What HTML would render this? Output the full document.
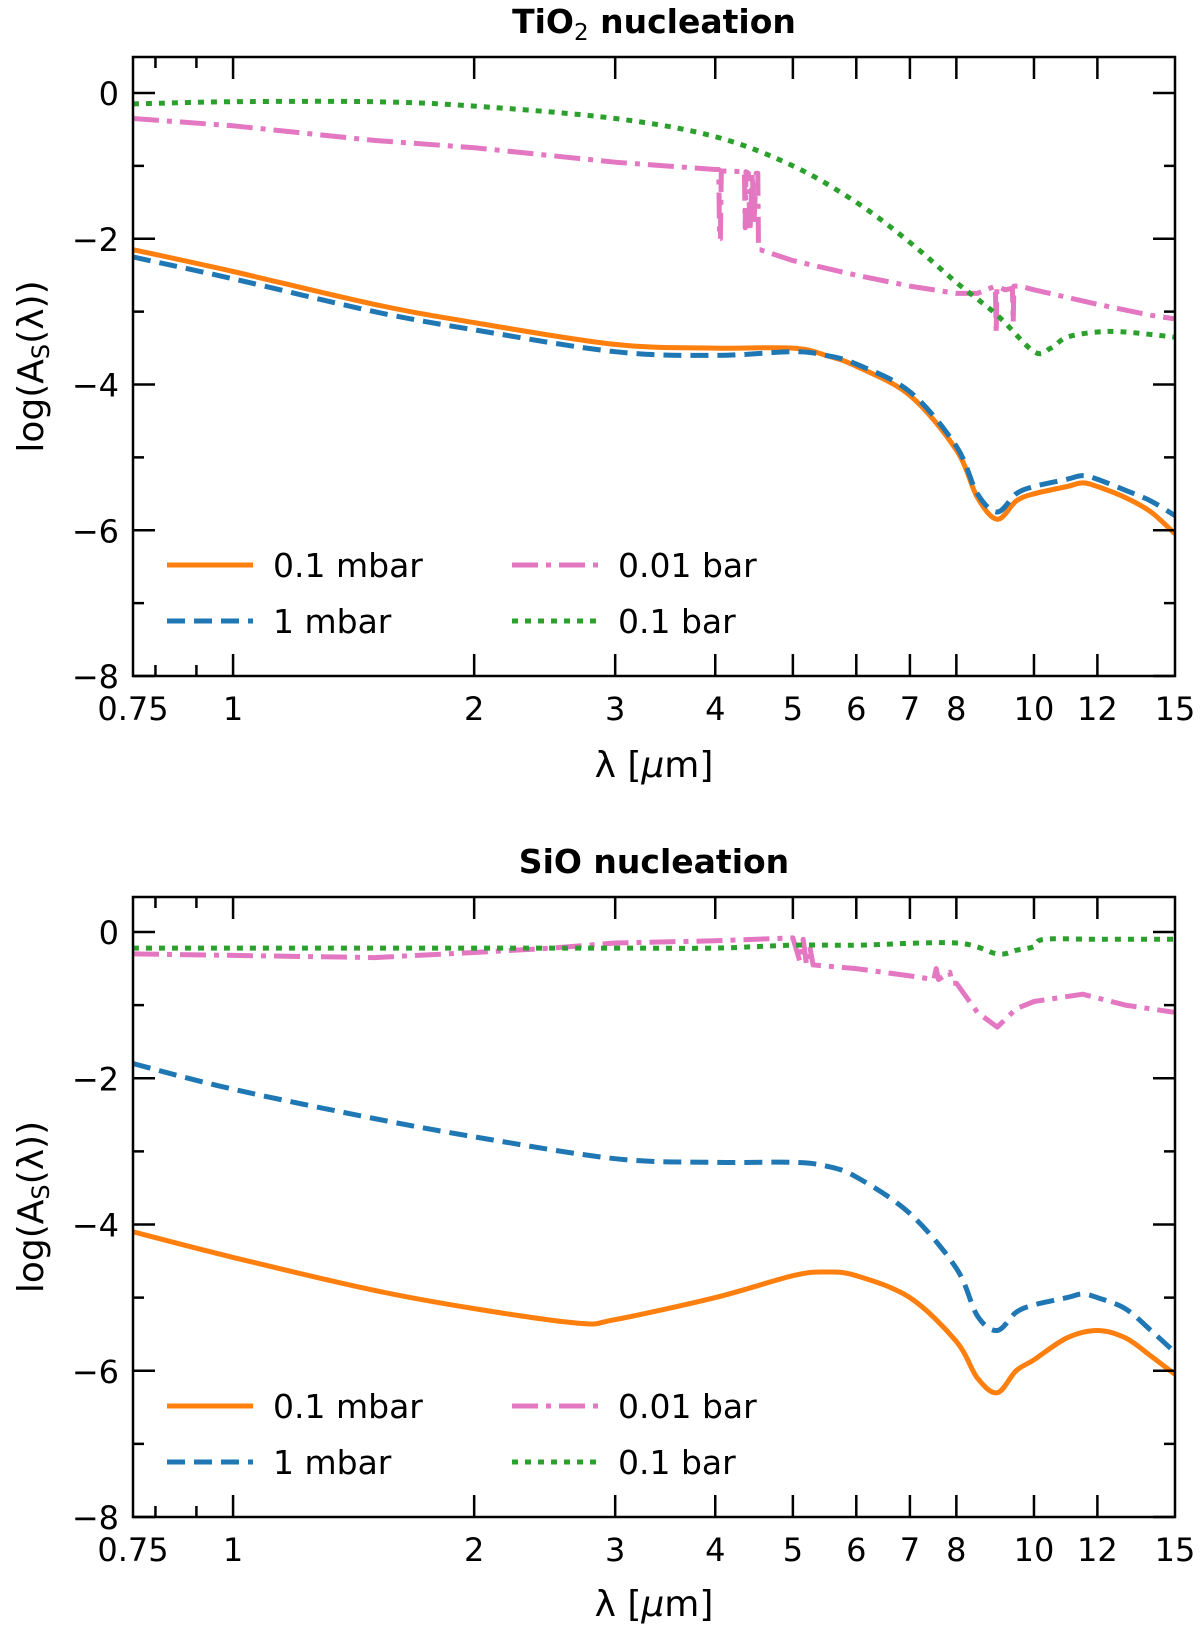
<!DOCTYPE html>
<html><head><meta charset="utf-8"><style>
body{margin:0;background:#fff;}
svg{display:block;font-family:"DejaVu Sans","Liberation Sans",sans-serif;}
</style></head><body>
<svg id="fig" width="1200" height="1632" viewBox="0 0 1200 1632" xmlns="http://www.w3.org/2000/svg"></svg>
<script>
// ---- data ----
const xTickValues = [0.75, 1, 2, 3, 4, 5, 6, 7, 8, 10, 12, 15];
const xTickLabels = ["0.75","1","2","3","4","5","6","7","8","10","12","15"];
const xMinorValues = [0.8, 0.9];
const yTickValues = [0, -2, -4, -6, -8];
const yTickLabels = ["0","\u22122","\u22124","\u22126","\u22128"];
const yMinorValues = [-1, -3, -5, -7];
const seriesNames = ["0.1 mbar","1 mbar","0.01 bar","0.1 bar"];

const tioLam = [0.75,1,1.5,2,3,4,5,5.5,6,7,8,8.5,9,9.5,10,11,11.5,12,13,14,15];
const tioOrange = [-2.15,-2.45,-2.9,-3.15,-3.45,-3.5,-3.5,-3.6,-3.75,-4.15,-4.9,-5.55,-5.85,-5.6,-5.5,-5.4,-5.35,-5.4,-5.55,-5.75,-6.05];
const tioBlue = [-2.25,-2.55,-3.0,-3.25,-3.55,-3.6,-3.55,-3.6,-3.72,-4.1,-4.85,-5.5,-5.75,-5.5,-5.4,-5.3,-5.25,-5.3,-5.45,-5.6,-5.8];
const tioPinkLam = [0.75,1,1.5,2,3,4,4.04,4.05,4.06,4.07,4.35,4.36,4.37,4.4,4.42,4.45,4.47,4.5,4.52,4.53,4.55,5,6,7,8,8.5,8.95,8.97,8.99,9.2,9.4,9.42,9.44,9.6,10,12,14,15];
const tioPink = [-0.35,-0.45,-0.65,-0.75,-0.95,-1.05,-1.05,-2.0,-2.0,-1.07,-1.08,-1.85,-1.08,-1.1,-1.9,-1.1,-1.8,-1.1,-1.1,-2.15,-2.15,-2.3,-2.5,-2.65,-2.75,-2.75,-2.65,-3.3,-2.65,-2.7,-2.68,-3.15,-2.65,-2.65,-2.7,-2.9,-3.05,-3.1];
const tioGreenLam = [0.75,1,1.5,2,3,4,5,6,7,8,9,10,10.5,11,12,13,15];
const tioGreen = [-0.15,-0.12,-0.12,-0.18,-0.35,-0.6,-1.0,-1.5,-2.05,-2.6,-3.05,-3.55,-3.5,-3.35,-3.28,-3.28,-3.35];

const sioLam = [0.75,1,1.5,2,2.7,3,4,5,5.5,6,7,8,8.5,9,9.5,10,11,12,13,14,15];
const sioOrange = [-4.1,-4.45,-4.9,-5.15,-5.35,-5.3,-5.0,-4.7,-4.65,-4.7,-5.0,-5.6,-6.1,-6.3,-6.0,-5.85,-5.55,-5.45,-5.55,-5.8,-6.05];
const sioBlueLam = [0.75,1,1.5,2,3,4,5,5.5,6,7,8,8.5,9,9.5,10,11,11.5,12,13,14,15];
const sioBlue = [-1.8,-2.15,-2.55,-2.8,-3.1,-3.15,-3.15,-3.2,-3.35,-3.85,-4.6,-5.25,-5.45,-5.2,-5.1,-5.0,-4.95,-5.0,-5.15,-5.45,-5.75];
const sioPinkLam = [0.75,1,1.5,2,2.5,3,4,5,5.1,5.15,5.2,5.25,5.3,6,7,7.5,7.55,7.6,7.85,7.9,8,8.5,9,9.5,10,11.5,13,15];
const sioPink = [-0.3,-0.32,-0.35,-0.28,-0.22,-0.15,-0.12,-0.08,-0.4,-0.1,-0.45,-0.2,-0.45,-0.5,-0.6,-0.65,-0.5,-0.65,-0.55,-0.7,-0.7,-1.1,-1.3,-1.05,-0.95,-0.85,-1.0,-1.1];
const sioGreenLam = [0.75,1,2,3,4,5,6,8,9,9.5,10,10.3,12,15];
const sioGreen = [-0.22,-0.22,-0.22,-0.22,-0.22,-0.18,-0.18,-0.15,-0.3,-0.25,-0.2,-0.1,-0.1,-0.1];

// ---- drawing ----
const NS = "http://www.w3.org/2000/svg";
const svg = document.getElementById("fig");
const L = 133, R = 1175;
const colors = ["#ff7f0e","#1f77b4","#e377c2","#2ca02c"];
const dashes = ["", "18 9", "26 8 5 8", "6 7"];
function mk(tag, attrs, parent){ const e=document.createElementNS(NS,tag); for(const k in attrs) e.setAttribute(k,attrs[k]); (parent||svg).appendChild(e); return e; }
function xs(l){ return L + (R-L)*Math.log10(l/0.75)/Math.log10(15/0.75); }
function smoothPath(P){
  let d = "M"+P[0][0].toFixed(1)+","+P[0][1].toFixed(1);
  for(let i=0;i<P.length-1;i++){
    const p0=P[Math.max(0,i-1)], p1=P[i], p2=P[i+1], p3=P[Math.min(P.length-1,i+2)];
    const c1x=p1[0]+(p2[0]-p0[0])/6, c1y=p1[1]+(p2[1]-p0[1])/6;
    const c2x=p2[0]-(p3[0]-p1[0])/6, c2y=p2[1]-(p3[1]-p1[1])/6;
    d += "C"+c1x.toFixed(1)+","+c1y.toFixed(1)+" "+c2x.toFixed(1)+","+c2y.toFixed(1)+" "+p2[0].toFixed(1)+","+p2[1].toFixed(1);
  }
  return d;
}

function panel(key, top, bottom, zeroY, title, titleY, tickLabelY, xTitleY, legY, series){
  const g = mk("g",{});
  
  
  const per = (bottom - zeroY)/8;
  const ys = v => zeroY - v*per;
  const t = mk("text",{x:(L+R)/2,y:titleY,"text-anchor":"middle","font-size":"33","font-weight":"bold"},g);
  
  
  t.innerHTML = title;
  const cp = mk("clipPath",{id:"clip-"+key},g);
  mk("rect",{x:L,y:top,width:R-L,height:bottom-top},cp);
  const sg = mk("g",{"clip-path":"url(#clip-"+key+")"},g);
  series.forEach((s,i)=>{
    const P = s.lam.map((l,j)=>[xs(l), ys(s.v[j])]);
    const d = s.smooth ? smoothPath(P) : P.map((q,j)=>(j?"L":"M")+q[0].toFixed(1)+","+q[1].toFixed(1)).join("");
    const p = mk("path",{d:d,fill:"none",stroke:colors[i],"stroke-width":"5","stroke-linejoin":"round"},sg);
    if(dashes[i]) p.setAttribute("stroke-dasharray",dashes[i]);
    
    
  });
  const fr = mk("rect",{x:L,y:top,width:R-L,height:bottom-top,fill:"none",stroke:"#000","stroke-width":"2.5"},g);
  
  
  const tk = mk("g",{stroke:"#000","stroke-width":"2.5"},g);
  xTickValues.forEach((v,i)=>{
    const x = xs(v);
    if(i>0 && i<xTickValues.length-1){
      mk("line",{x1:x,y1:bottom,x2:x,y2:bottom-22},tk);
      mk("line",{x1:x,y1:top,x2:x,y2:top+22},tk);
    }
    const lb = mk("text",{x:x,y:tickLabelY,"text-anchor":"middle","font-size":"32",stroke:"none"},g);
    
    
    lb.textContent = xTickLabels[i];
  });
  xMinorValues.forEach(v=>{
    const x = xs(v);
    mk("line",{x1:x,y1:bottom,x2:x,y2:bottom-11},tk);
    mk("line",{x1:x,y1:top,x2:x,y2:top+11},tk);
  });
  yTickValues.forEach((v,i)=>{
    const y = ys(v);
    mk("line",{x1:L,y1:y,x2:L+22,y2:y},tk);
    mk("line",{x1:R,y1:y,x2:R-22,y2:y},tk);
    const lb = mk("text",{x:L-14,y:y+12,"text-anchor":"end","font-size":"32"},g);
    
    
    lb.textContent = yTickLabels[i];
  });
  yMinorValues.forEach(v=>{
    const y = ys(v);
    mk("line",{x1:L,y1:y,x2:L+11,y2:y},tk);
    mk("line",{x1:R,y1:y,x2:R-11,y2:y},tk);
  });
  const xt = mk("text",{x:(L+R)/2,y:xTitleY,"text-anchor":"middle","font-size":"36"},g);
  
  
  xt.innerHTML = 'λ [<tspan font-style="italic">μ</tspan>m]';
  const cy = (top+bottom)/2;
  const yt = mk("text",{x:0,y:0,"text-anchor":"middle","font-size":"36",transform:"translate(43,"+cy+") rotate(-90)"},g);
  
  
  yt.innerHTML = 'log(A<tspan font-size="24" dy="6">S</tspan><tspan dy="-6">(λ))</tspan>';
  const pos = [[167,legY],[167,legY+56],[512,legY],[512,legY+56]];
  seriesNames.forEach((n,i)=>{
    const lg = mk("g",{},g);
    
    
    const [px,py] = pos[i];
    const ln = mk("line",{x1:px,y1:py,x2:px+86,y2:py,stroke:colors[i],"stroke-width":"5"},lg);
    if(dashes[i]) ln.setAttribute("stroke-dasharray",dashes[i]);
    const tx = mk("text",{x:px+106,y:py+12,"font-size":"33"},lg);
    tx.textContent = n;
  });
}

panel("tio2", 57, 676, 93, 'TiO<tspan font-size="23" dy="7" font-weight="normal">2</tspan><tspan dy="-7"> nucleation</tspan>', 33, 720, 777, 565, [
  {lam:tioLam, v:tioOrange, smooth:true},{lam:tioLam, v:tioBlue, smooth:true},{lam:tioPinkLam, v:tioPink},{lam:tioGreenLam, v:tioGreen, smooth:true}]);
panel("sio", 897, 1517, 932, 'SiO nucleation', 873, 1561, 1616, 1406, [
  {lam:sioLam, v:sioOrange, smooth:true},{lam:sioBlueLam, v:sioBlue, smooth:true},{lam:sioPinkLam, v:sioPink},{lam:sioGreenLam, v:sioGreen, smooth:true}]);
</script>
</body></html>
